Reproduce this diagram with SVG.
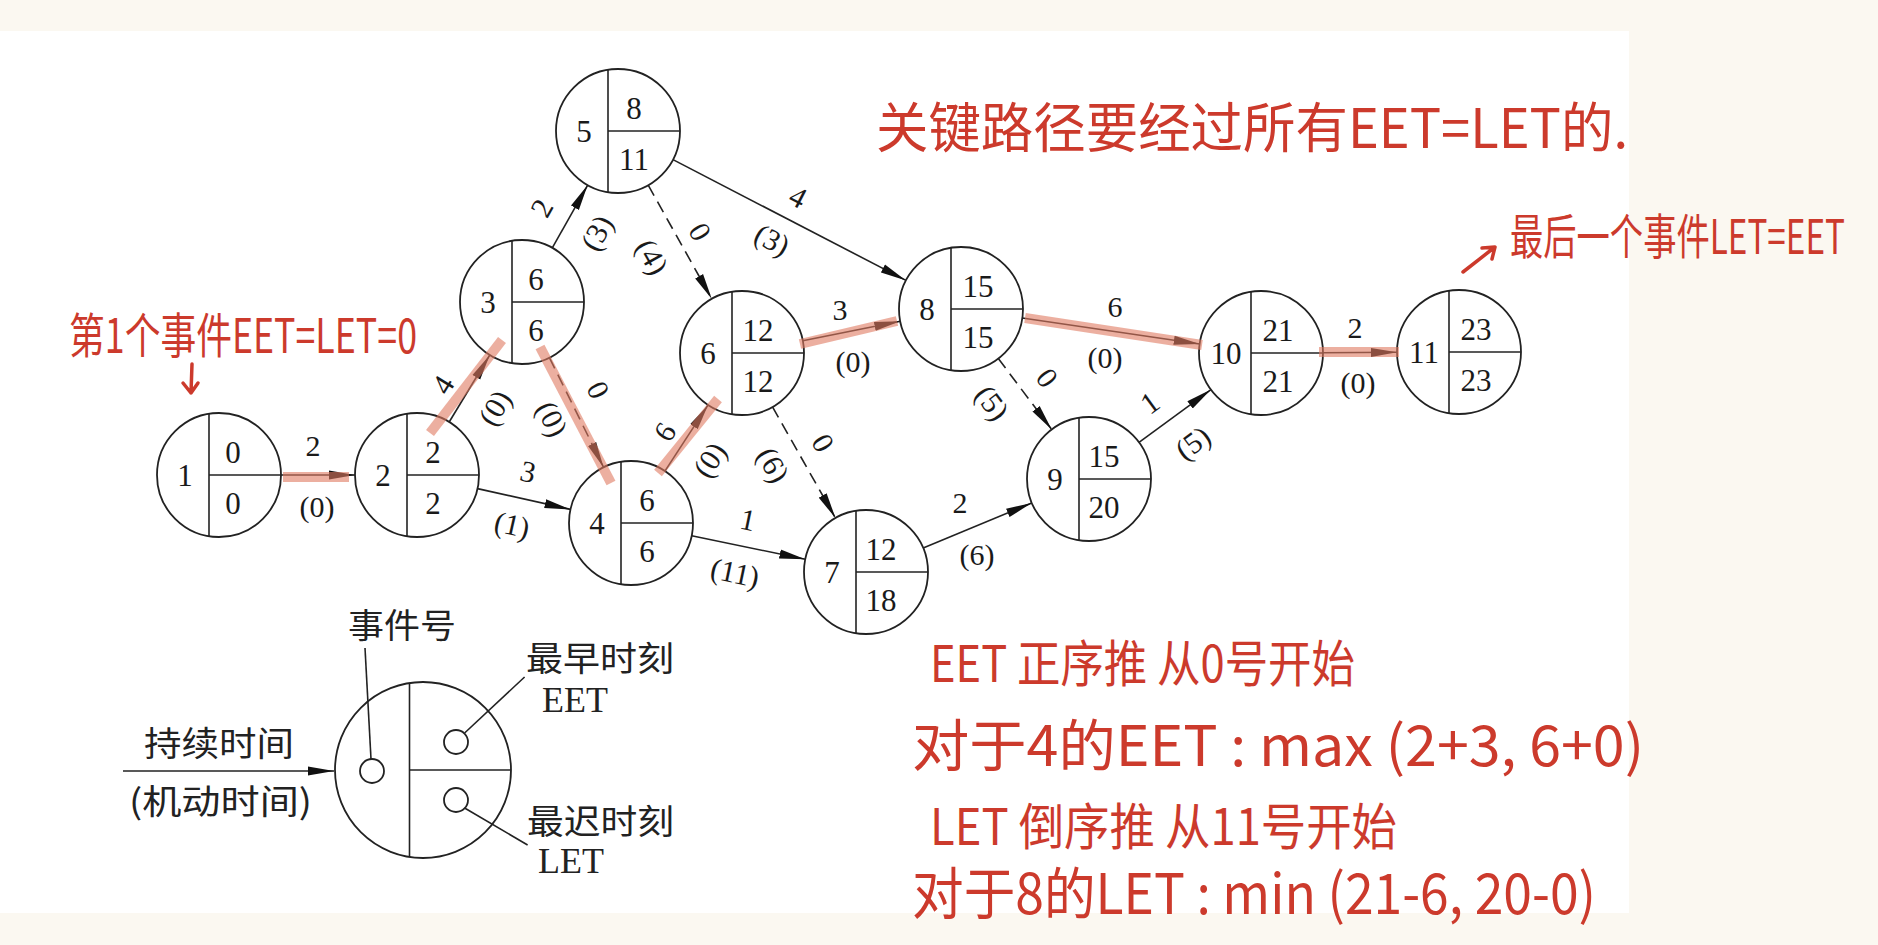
<svg xmlns="http://www.w3.org/2000/svg" width="1878" height="945" viewBox="0 0 1878 945">
<style>
.bg{fill:#fbf8f1}
.paper{fill:#ffffff}
.nc{fill:#ffffff;stroke:#222;stroke-width:1.8}
.nl{stroke:#222;stroke-width:1.6;fill:none}
.num{font-family:"Liberation Serif","Times New Roman",serif;font-size:31px;fill:#1a1a1a;text-anchor:middle}
.lbl{font-family:"Liberation Serif","Times New Roman",serif;font-size:30px;fill:#1a1a1a;text-anchor:middle}
.edge{stroke:#222;stroke-width:1.6;fill:none}
.dash{stroke-dasharray:12 7}
.hl{stroke:#e07a60;stroke-opacity:0.6;stroke-width:10;fill:none}
.hw{font-family:"Noto Sans CJK SC","Noto Sans",sans-serif;fill:#cc3a2c}
.hwl{stroke:#cc3a2c;stroke-width:3.5;fill:none;stroke-linecap:round;stroke-linejoin:round}
.lg{font-family:"Noto Sans CJK SC","Noto Sans",sans-serif;font-size:34px;fill:#222}
.lgs{font-family:"Liberation Serif","Times New Roman",serif;font-size:36px;fill:#222}
</style>
<defs>
<marker id="ah" markerWidth="26" markerHeight="10" refX="26" refY="5" orient="auto" markerUnits="userSpaceOnUse">
<path d="M0,0.5 L26,5 L0,9.5 z" fill="#111"/>
</marker>
</defs>
<rect class="bg" x="0" y="0" width="1878" height="945"/>
<rect class="paper" x="0" y="31" width="1629" height="882"/>

<g id="connectors">
<line class="edge" x1="281" y1="475" x2="355" y2="475" marker-end="url(#ah)"/>
<line class="edge" x1="449.2" y1="422" x2="489.8" y2="355" marker-end="url(#ah)"/>
<line class="edge" x1="477.5" y1="488.6" x2="570.5" y2="509.4" marker-end="url(#ah)"/>
<line class="edge" x1="552.3" y1="247.9" x2="587.7" y2="185.1" marker-end="url(#ah)"/>
<line class="edge dash" x1="549.4" y1="357.6" x2="603.6" y2="467.4" marker-end="url(#ah)"/>
<line class="edge" x1="664.9" y1="471.1" x2="708.1" y2="404.9" marker-end="url(#ah)"/>
<line class="edge" x1="691.7" y1="535.7" x2="805.3" y2="559.3" marker-end="url(#ah)"/>
<line class="edge dash" x1="648.2" y1="185.1" x2="711.8" y2="298.9" marker-end="url(#ah)"/>
<line class="edge" x1="673" y1="159.6" x2="906" y2="280.4" marker-end="url(#ah)"/>
<line class="edge" x1="802.8" y1="340.8" x2="900.2" y2="321.2" marker-end="url(#ah)"/>
<line class="edge dash" x1="772.5" y1="406.9" x2="835.5" y2="518.1" marker-end="url(#ah)"/>
<line class="edge" x1="923.2" y1="548.1" x2="1031.8" y2="502.9" marker-end="url(#ah)"/>
<line class="edge" x1="1022.3" y1="318" x2="1199.7" y2="344" marker-end="url(#ah)"/>
<line class="edge dash" x1="998.3" y1="358.5" x2="1051.7" y2="429.5" marker-end="url(#ah)"/>
<line class="edge" x1="1139" y1="442.4" x2="1211" y2="389.6" marker-end="url(#ah)"/>
<line class="edge" x1="1323" y1="352.7" x2="1397" y2="352.3" marker-end="url(#ah)"/>

<text class="lbl" x="313" y="456">2</text>
<text class="lbl" x="317" y="517">(0)</text>
<text class="lbl" transform="translate(443,385) rotate(-58.75)" y="10">4</text>
<text class="lbl" transform="translate(495,408) rotate(-58.75)" y="10">(0)</text>
<text class="lbl" transform="translate(528,472) rotate(12.6)" y="10">3</text>
<text class="lbl" transform="translate(512,525) rotate(12.6)" y="10">(1)</text>
<text class="lbl" transform="translate(542,208) rotate(-60.7)" y="10">2</text>
<text class="lbl" transform="translate(597,233) rotate(-60.7)" y="10">(3)</text>
<text class="lbl" transform="translate(598,390) rotate(63.7)" y="10">0</text>
<text class="lbl" transform="translate(552,419) rotate(63.7)" y="10">(0)</text>
<text class="lbl" transform="translate(665,432) rotate(-56.9)" y="10">6</text>
<text class="lbl" transform="translate(710,460) rotate(-56.9)" y="10">(0)</text>
<text class="lbl" transform="translate(748,520) rotate(11.8)" y="10">1</text>
<text class="lbl" transform="translate(735,573) rotate(11.8)" y="10">(11)</text>
<text class="lbl" transform="translate(700,232) rotate(60.8)" y="10">0</text>
<text class="lbl" transform="translate(652,257) rotate(60.8)" y="10">(4)</text>
<text class="lbl" transform="translate(798,197) rotate(27.4)" y="10">4</text>
<text class="lbl" transform="translate(772,240) rotate(27.4)" y="10">(3)</text>
<text class="lbl" x="840" y="320">3</text>
<text class="lbl" x="853" y="372">(0)</text>
<text class="lbl" transform="translate(823,443) rotate(60.5)" y="10">0</text>
<text class="lbl" transform="translate(773,465) rotate(60.5)" y="10">(6)</text>
<text class="lbl" x="960" y="513">2</text>
<text class="lbl" x="977" y="565">(6)</text>
<text class="lbl" x="1115" y="317">6</text>
<text class="lbl" x="1105" y="368">(0)</text>
<text class="lbl" transform="translate(1047,378) rotate(53)" y="10">0</text>
<text class="lbl" transform="translate(992,403) rotate(53)" y="10">(5)</text>
<text class="lbl" transform="translate(1150,403) rotate(-36.2)" y="10">1</text>
<text class="lbl" transform="translate(1193,443) rotate(-36.2)" y="10">(5)</text>
<text class="lbl" x="1355" y="338">2</text>
<text class="lbl" x="1358" y="393">(0)</text>
</g>

<g id="n1" transform="translate(219,475)"><circle class="nc" r="62"/><line class="nl" x1="-10" y1="-61.2" x2="-10" y2="61.2"/><line class="nl" x1="-10" y1="0" x2="62" y2="0"/><text class="num" x="-34" y="11">1</text><text class="num" x="14" y="-12">0</text><text class="num" x="14" y="39">0</text></g>
<g id="n2" transform="translate(417,475)"><circle class="nc" r="62"/><line class="nl" x1="-10" y1="-61.2" x2="-10" y2="61.2"/><line class="nl" x1="-10" y1="0" x2="62" y2="0"/><text class="num" x="-34" y="11">2</text><text class="num" x="16" y="-12">2</text><text class="num" x="16" y="39">2</text></g>
<g id="n3" transform="translate(522,302)"><circle class="nc" r="62"/><line class="nl" x1="-10" y1="-61.2" x2="-10" y2="61.2"/><line class="nl" x1="-10" y1="0" x2="62" y2="0"/><text class="num" x="-34" y="11">3</text><text class="num" x="14" y="-12">6</text><text class="num" x="14" y="39">6</text></g>
<g id="n4" transform="translate(631,523)"><circle class="nc" r="62"/><line class="nl" x1="-10" y1="-61.2" x2="-10" y2="61.2"/><line class="nl" x1="-10" y1="0" x2="62" y2="0"/><text class="num" x="-34" y="11">4</text><text class="num" x="16" y="-12">6</text><text class="num" x="16" y="39">6</text></g>
<g id="n5" transform="translate(618,131)"><circle class="nc" r="62"/><line class="nl" x1="-10" y1="-61.2" x2="-10" y2="61.2"/><line class="nl" x1="-10" y1="0" x2="62" y2="0"/><text class="num" x="-34" y="11">5</text><text class="num" x="16" y="-12">8</text><text class="num" x="16" y="39">11</text></g>
<g id="n6" transform="translate(742,353)"><circle class="nc" r="62"/><line class="nl" x1="-10" y1="-61.2" x2="-10" y2="61.2"/><line class="nl" x1="-10" y1="0" x2="62" y2="0"/><text class="num" x="-34" y="11">6</text><text class="num" x="16" y="-12">12</text><text class="num" x="16" y="39">12</text></g>
<g id="n7" transform="translate(866,572)"><circle class="nc" r="62"/><line class="nl" x1="-10" y1="-61.2" x2="-10" y2="61.2"/><line class="nl" x1="-10" y1="0" x2="62" y2="0"/><text class="num" x="-34" y="11">7</text><text class="num" x="15" y="-12">12</text><text class="num" x="15" y="39">18</text></g>
<g id="n8" transform="translate(961,309)"><circle class="nc" r="62"/><line class="nl" x1="-10" y1="-61.2" x2="-10" y2="61.2"/><line class="nl" x1="-10" y1="0" x2="62" y2="0"/><text class="num" x="-34" y="11">8</text><text class="num" x="17" y="-12">15</text><text class="num" x="17" y="39">15</text></g>
<g id="n9" transform="translate(1089,479)"><circle class="nc" r="62"/><line class="nl" x1="-10" y1="-61.2" x2="-10" y2="61.2"/><line class="nl" x1="-10" y1="0" x2="62" y2="0"/><text class="num" x="-34" y="11">9</text><text class="num" x="15" y="-12">15</text><text class="num" x="15" y="39">20</text></g>
<g id="n10" transform="translate(1261,353)"><circle class="nc" r="62"/><line class="nl" x1="-10" y1="-61.2" x2="-10" y2="61.2"/><line class="nl" x1="-10" y1="0" x2="62" y2="0"/><text class="num" x="-35" y="11">10</text><text class="num" x="17" y="-12">21</text><text class="num" x="17" y="39">21</text></g>
<g id="n11" transform="translate(1459,352)"><circle class="nc" r="62"/><line class="nl" x1="-10" y1="-61.2" x2="-10" y2="61.2"/><line class="nl" x1="-10" y1="0" x2="62" y2="0"/><text class="num" x="-35" y="11">11</text><text class="num" x="17" y="-12">23</text><text class="num" x="17" y="39">23</text></g>

<g id="critical-path">
<line class="hl" x1="283" y1="477" x2="349" y2="477"/>
<line class="hl" x1="430" y1="433" x2="502" y2="340"/>
<line class="hl" x1="540" y1="347" x2="611" y2="483"/>
<line class="hl" x1="658" y1="473" x2="718" y2="399"/>
<line class="hl" x1="800" y1="344" x2="897" y2="321"/>
<line class="hl" x1="1025" y1="318" x2="1202" y2="345"/>
<line class="hl" x1="1319" y1="352" x2="1399" y2="352"/>
</g>

<g id="legend">
<circle class="nc" cx="423" cy="770" r="88"/>
<line class="nl" x1="409.5" y1="683" x2="409.5" y2="857"/>
<line class="nl" x1="409.5" y1="770" x2="511" y2="770"/>
<circle class="nc" cx="372" cy="771" r="12"/>
<circle class="nc" cx="456" cy="742" r="12"/>
<circle class="nc" cx="456" cy="800" r="12"/>
<line class="nl" x1="371" y1="759" x2="365" y2="648"/>
<line class="nl" x1="464.6" y1="733" x2="524.6" y2="677"/>
<line class="nl" x1="464.6" y1="808" x2="527.6" y2="845"/>
<line class="edge" x1="123" y1="771" x2="334" y2="771" marker-end="url(#ah)"/>
<text class="lg" x="348" y="638" textLength="108" lengthAdjust="spacingAndGlyphs">事件号</text>
<text class="lg" x="526" y="671" textLength="148" lengthAdjust="spacingAndGlyphs">最早时刻</text>
<text class="lgs" x="542" y="712">EET</text>
<text class="lg" x="527" y="834" textLength="147" lengthAdjust="spacingAndGlyphs">最迟时刻</text>
<text class="lgs" x="538" y="873">LET</text>
<text class="lg" x="144" y="756" textLength="150" lengthAdjust="spacingAndGlyphs">持续时间</text>
<text class="lg" x="129" y="814" textLength="183" lengthAdjust="spacingAndGlyphs">(机动时间)</text>
</g>

<g id="annotations">
<text class="hw" x="876" y="148" font-size="54" textLength="752" lengthAdjust="spacingAndGlyphs">关键路径要经过所有EET=LET的.</text>
<text class="hw" x="69" y="353" font-size="48" textLength="348" lengthAdjust="spacingAndGlyphs">第1个事件EET=LET=0</text>
<path class="hwl" d="M192,364 L191,393 M183,383 L191,393 L198,383"/>
<path class="hwl" d="M1463,272 L1495,247 M1482,248 L1495,247 L1492,259"/>
<text class="hw" x="1510" y="254" font-size="48" textLength="335" lengthAdjust="spacingAndGlyphs">最后一个事件LET=EET</text>
<text class="hw" x="930" y="682" font-size="50" textLength="425" lengthAdjust="spacingAndGlyphs">EET 正序推  从0号开始</text>
<text class="hw" x="912" y="766" font-size="56" textLength="732" lengthAdjust="spacingAndGlyphs">对于4的EET : max (2+3, 6+0)</text>
<text class="hw" x="930" y="845" font-size="50" textLength="467" lengthAdjust="spacingAndGlyphs">LET 倒序推  从11号开始</text>
<text class="hw" x="912" y="914" font-size="56" textLength="684" lengthAdjust="spacingAndGlyphs">对于8的LET : min (21-6, 20-0)</text>
</g>
</svg>
